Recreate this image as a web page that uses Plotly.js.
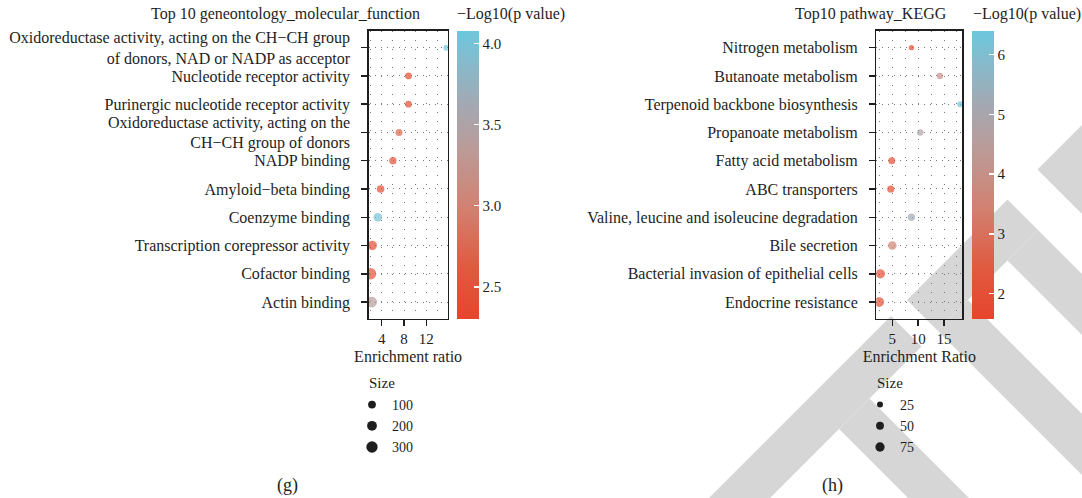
<!DOCTYPE html>
<html>
<head>
<meta charset="utf-8">
<script src="https://cdn.plot.ly/plotly-3.0.1.min.js"></script>
<style>
  html, body { margin: 0; padding: 0; background: #ffffff; }
  #chart { width: 1082px; height: 498px; }
</style>
</head>
<body>
<div id="chart"></div>
<script>
// ---- GO molecular function (listed top to bottom) ----
const goTerms = [
  "Oxidoreductase activity, acting on the CH\u2212CH group<br>of donors, NAD or NADP as acceptor",
  "Nucleotide receptor activity",
  "Purinergic nucleotide receptor activity",
  "Oxidoreductase activity, acting on the<br>CH\u2212CH group of donors",
  "NADP binding",
  "Amyloid\u2212beta binding",
  "Coenzyme binding",
  "Transcription corepressor activity",
  "Cofactor binding",
  "Actin binding"
];
const goRatio = [15.6, 8.8, 8.8, 7.1, 6.0, 3.8, 3.3, 2.3, 2.0, 2.2];
const goLogP  = [4.05, 2.38, 2.38, 2.70, 2.42, 2.40, 4.00, 2.45, 2.50, 3.40];
const goSize  = [40, 60, 60, 70, 80, 90, 130, 180, 300, 260];
const goSizeLegend = [100, 200, 300];
const goCbTicks = [2.5, 3.0, 3.5, 4.0];
const goCbLabels = ["2.5", "3.0", "3.5", "4.0"];

// ---- KEGG pathways (listed top to bottom) ----
const keggTerms = [
  "Nitrogen metabolism",
  "Butanoate metabolism",
  "Terpenoid backbone biosynthesis",
  "Propanoate metabolism",
  "Fatty acid metabolism",
  "ABC transporters",
  "Valine, leucine and isoleucine degradation",
  "Bile secretion",
  "Bacterial invasion of epithelial cells",
  "Endocrine resistance"
];
const keggRatio = [8.7, 14.2, 18.1, 10.4, 4.9, 4.7, 8.7, 5.0, 2.7, 2.45];
const keggLogP  = [1.80, 3.80, 6.30, 4.75, 1.90, 1.80, 5.15, 3.50, 1.90, 1.95];
const keggSize  = [18, 28, 22, 30, 38, 40, 42, 62, 75, 85];
const keggSizeLegend = [25, 50, 75];
const keggCbTicks = [2, 3, 4, 5, 6];

// ---- page geometry helpers (pixel -> paper) ----
const W = 1082, H = 498;
const px = v => v / W;
const py = v => 1 - v / H;

const FONT = "Liberation Serif, Times New Roman, serif";
const INK = "#1e1e1e";
const GRID = "#7a7a7a";
const SHADE = "#d6d6d6";

// red -> grey -> cyan gradient
const pScale = [
  [0.00, "#E6452C"],
  [0.18, "#E05A40"],
  [0.38, "#D28070"],
  [0.58, "#BC9A96"],
  [0.74, "#A4A8B2"],
  [0.88, "#88B9CA"],
  [1.00, "#6CC7DD"]
];

const goDiam = n => 3 + 0.48 * Math.sqrt(n);
const keggDiam = n => 1.5 + 0.9 * Math.sqrt(n);

const traces = [
  {
    type: "scatter", mode: "markers",
    x: goRatio, y: goTerms,
    xaxis: "x", yaxis: "y",
    marker: { size: goSize.map(goDiam), sizemode: "diameter",
              color: goLogP, coloraxis: "coloraxis", line: { width: 0 } },
    showlegend: false, hoverinfo: "x+y"
  },
  {
    type: "scatter", mode: "markers",
    x: keggRatio, y: keggTerms,
    xaxis: "x2", yaxis: "y2",
    marker: { size: keggSize.map(keggDiam), sizemode: "diameter",
              color: keggLogP, coloraxis: "coloraxis2", line: { width: 0 } },
    showlegend: false, hoverinfo: "x+y"
  }
];

// size keys
goSizeLegend.forEach(v => traces.push({
  type: "scatter", mode: "markers", x: [null], y: [null],
  xaxis: "x", yaxis: "y", name: String(v), legend: "legend",
  marker: { size: goDiam(v), color: INK }, hoverinfo: "skip"
}));
keggSizeLegend.forEach(v => traces.push({
  type: "scatter", mode: "markers", x: [null], y: [null],
  xaxis: "x2", yaxis: "y2", name: String(v), legend: "legend2",
  marker: { size: keggDiam(v), color: INK }, hoverinfo: "skip"
}));

function xAxis(domain, range, dtick, title) {
  return {
    domain: domain, range: range, tick0: 0, dtick: dtick,
    ticks: "outside", ticklen: 6, tickwidth: 1.5, tickcolor: INK,
    showline: true, mirror: true, linecolor: INK, linewidth: 1.3,
    zeroline: false, fixedrange: true,
    showgrid: true, gridcolor: GRID, gridwidth: 1, griddash: "1px,8px",
    tickfont: { family: FONT, size: 15, color: INK },
    title: { text: title, standoff: 4, font: { family: FONT, size: 16, color: INK } },
    minor: { tick0: 0, dtick: dtick / 2, showgrid: true, gridcolor: GRID, gridwidth: 1, griddash: "1px,8px", ticks: "" }
  };
}
function yAxis(domain, terms, anchor) {
  return {
    domain: domain, type: "category",
    categoryorder: "array", categoryarray: terms.slice().reverse(),
    range: [-0.6, terms.length - 0.4],
    ticks: "outside", ticklen: 6, tickwidth: 1.5, tickcolor: INK,
    ticklabelstandoff: 8,
    showline: true, mirror: true, linecolor: INK, linewidth: 1.3,
    zeroline: false, fixedrange: true, anchor: anchor,
    showgrid: true, gridcolor: GRID, gridwidth: 1, griddash: "1px,5px",
    tickfont: { family: FONT, size: 16, color: INK }
  };
}

const yDom = [py(319), py(30.7)];

function cbar(xLeft, ticks, labels) {
  return {
    x: px(xLeft), xanchor: "left", xpad: 0,
    y: py(175.2), yanchor: "middle", ypad: 0,
    len: 288, lenmode: "pixels", thickness: 22, thicknessmode: "pixels",
    outlinewidth: 0,
    ticks: "inside", ticklen: 5, tickwidth: 1.5, tickcolor: "#ffffff",
    tickvals: ticks, ticktext: labels,
    tickfont: { family: FONT, size: 15, color: INK }
  };
}

function sizeLegend(xLeft) {
  return {
    x: px(xLeft), xanchor: "left", y: py(389), yanchor: "top",
    bgcolor: "rgba(0,0,0,0)", borderwidth: 0,
    itemwidth: 30, traceorder: "normal", tracegroupgap: 0,
    font: { family: FONT, size: 14, color: INK }
  };
}

function label(text, x, y, size, anchor) {
  return { text: text, xref: "paper", yref: "paper", x: px(x), y: py(y),
           xanchor: anchor || "center", yanchor: "middle", showarrow: false,
           font: { family: FONT, size: size, color: INK } };
}

// light diagonal background bands, given as pixel polygons
function band(points) {
  const d = points.map((p, i) => (i ? "L" : "M") + px(p[0]).toFixed(5) + "," + py(p[1]).toFixed(5)).join(" ") + " Z";
  return { type: "path", xref: "paper", yref: "paper", path: d,
           fillcolor: SHADE, line: { width: 0 }, layer: "below" };
}
const shadeBands = [
  [[709, 498], [891, 316], [921.5, 346.5], [770, 498]],
  [[907, 300], [1007.5, 199.5], [1038, 230], [937.5, 330.5]],
  [[1037.5, 169.5], [1082, 125], [1082, 214], [1068, 200]],
  [[937.5, 330.5], [968, 300], [1082, 414], [1082, 475]],
  [[1007.5, 260.5], [1038, 230], [1082, 274], [1082, 335]],
  [[839, 429], [869.5, 398.5], [969, 498], [908, 498]]
].map(band);

const layout = {
  width: W, height: H,
  margin: { l: 0, r: 0, t: 0, b: 0 },
  paper_bgcolor: "#ffffff", plot_bgcolor: "rgba(0,0,0,0)",
  showlegend: true,
  xaxis: xAxis([px(368.5), px(447.7)], [1.63, 15.83], 4, "Enrichment ratio"),
  yaxis: yAxis(yDom, goTerms, "x"),
  xaxis2: xAxis([px(876.3), px(962.3)], [1.91, 18.53], 5, "Enrichment Ratio"),
  yaxis2: yAxis(yDom, keggTerms, "x2"),
  coloraxis: { colorscale: pScale, cmin: 2.30, cmax: 4.076, colorbar: cbar(456.7, goCbTicks, goCbLabels) },
  coloraxis2: { colorscale: pScale, cmin: 1.57, cmax: 6.39, colorbar: cbar(972.3, keggCbTicks, keggCbTicks.map(String)) },
  legend: sizeLegend(352),
  legend2: sizeLegend(860),
  shapes: shadeBands,
  annotations: [
    label("Top 10 geneontology_molecular_function", 285, 14, 16),
    label("Top10 pathway_KEGG", 871, 14, 16),
    label("\u2212Log10(p value)", 455, 14, 16, "left"),
    label("\u2212Log10(p value)", 971, 14, 16, "left"),
    label("Size", 367, 383, 15, "left"),
    label("Size", 875, 383, 15, "left"),
    label("(g)", 287, 485, 18),
    label("(h)", 832, 485, 18)
  ]
};

Plotly.newPlot("chart", traces, layout, { staticPlot: true, displayModeBar: false });
</script>
</body>
</html>
